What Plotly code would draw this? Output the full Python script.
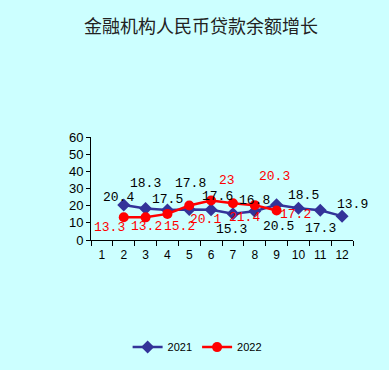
import plotly.graph_objects as go

months = [str(i) for i in range(1, 13)]
x2021 = [str(i) for i in range(2, 13)]
y2021 = [20.4, 18.3, 17.5, 17.8, 17.6, 15.3, 16.8, 20.5, 18.5, 17.3, 13.9]
x2022 = [str(i) for i in range(2, 10)]
y2022 = [13.3, 13.2, 15.2, 20.1, 23, 21.4, 20.3, 17.2]
yticks = [0, 10, 20, 30, 40, 50, 60]

# label offsets in pixels (dx, dy with dy positive = up)
off2021 = [(-5, 7), (0, 25), (0, 10), (1, 26), (6, 13), (-1, -16), (0, 11), (2, -22), (5, 13), (0, -18), (10, 12)]
off2022 = [(-14, -10), (1, -9), (12, -13), (16, -14), (16, 20), (12, -14), (20, 29), (19, -4)]

BLUE = "#333399"
RED = "#FF0000"
BG = "#CCFFFF"

fig = go.Figure()
fig.add_trace(go.Scatter(x=x2021, y=y2021, name="2021", mode="lines+markers",
                         line=dict(color=BLUE, width=2.5),
                         marker=dict(symbol="diamond", size=10, color=BLUE)))
fig.add_trace(go.Scatter(x=x2022, y=y2022, name="2022", mode="lines+markers",
                         line=dict(color=RED, width=2.5),
                         marker=dict(symbol="circle", size=10, color=RED)))

anns = []
for xv, yv, (dx, dy) in zip(x2021, y2021, off2021):
    anns.append(dict(x=months.index(xv), y=yv, text=f"{yv:g}", showarrow=False, xshift=dx, yshift=dy,
                     font=dict(family="Liberation Mono", size=13, color="black")))
for xv, yv, (dx, dy) in zip(x2022, y2022, off2022):
    anns.append(dict(x=months.index(xv), y=yv, text=f"{yv:g}", showarrow=False, xshift=dx, yshift=dy,
                     font=dict(family="Liberation Mono", size=13, color=RED)))

fig.update_layout(
    width=389, height=370,
    paper_bgcolor=BG, plot_bgcolor=BG,
    margin=dict(l=91, r=36, t=137, b=130, autoexpand=False),
    title=dict(text="金融机构人民币贷款余额增长", x=0.517, xanchor="center",
               y=1 - 27 / 370, yanchor="middle",
               font=dict(family="Noto Sans CJK SC", size=18, color="#222222")),
    annotations=anns,
    showlegend=True,
    legend=dict(orientation="h", x=0.405, xanchor="center", y=-1.04, yanchor="middle",
                bgcolor="rgba(0,0,0,0)",
                font=dict(family="Liberation Sans", size=11, color="black")),
    xaxis=dict(type="category", categoryorder="array", categoryarray=months,
               tickmode="array", tickvals=months, ticktext=months,
               range=[-0.5, 11.5], tickson="boundaries", tickangle=0, automargin=False,
               showline=True, linecolor="black", linewidth=1,
               ticks="outside", ticklen=5, tickcolor="black",
               showgrid=False, zeroline=False, ticklabelstandoff=4,
               tickfont=dict(family="Liberation Sans", size=12, color="black")),
    yaxis=dict(range=[0, 60], tickmode="array", tickvals=yticks, automargin=False,
               showline=True, linecolor="black", linewidth=1,
               ticks="outside", ticklen=4, tickcolor="black",
               showgrid=False, zeroline=False,
               tickfont=dict(family="Liberation Sans", size=13, color="black")),
)

fig.write_html("out.html", config={"displayModeBar": False},
               post_script="document.body.style.margin='0';document.body.style.padding='0';")
